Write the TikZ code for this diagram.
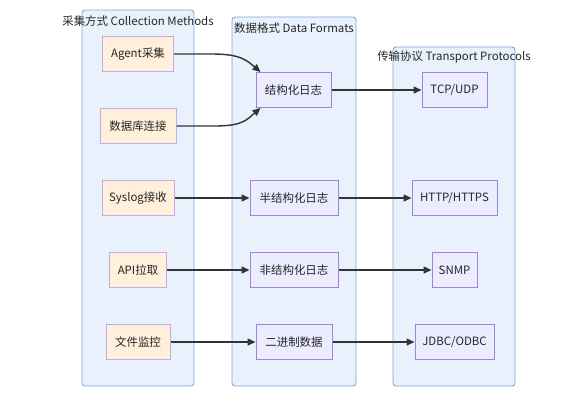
\documentclass[tikz,border=0pt]{standalone}
\usepackage{fontspec}
\setmainfont{Noto Sans CJK SC}
\usetikzlibrary{arrows.meta}
\definecolor{clfill}{RGB}{232,241,252}
\definecolor{cldraw}{RGB}{128,166,214}
\definecolor{srcfill}{RGB}{255,240,220}
\definecolor{srcdraw}{RGB}{196,172,232}
\definecolor{fmtfill}{RGB}{236,236,255}
\definecolor{fmtdraw}{RGB}{160,128,224}
\definecolor{edgec}{RGB}{51,51,51}
\tikzset{
  cluster/.style={draw=cldraw, fill=clfill, line width=0.9bp, rounded corners=3bp},
  cltitle/.style={font=\fontsize{11.5}{13}\selectfont, text=black!85, inner sep=0pt},
  srcbox/.style={draw=srcdraw, fill=srcfill, line width=1bp, minimum height=35bp, inner sep=0pt, font=\fontsize{11.5}{13}\selectfont, text=black!85},
  fmtbox/.style={draw=fmtdraw, fill=fmtfill, line width=1bp, minimum height=35bp, inner sep=0pt, font=\fontsize{11.5}{13}\selectfont, text=black!85},
  flow/.style={draw=edgec, line width=1.4bp, -{Triangle[length=8bp,width=7bp]}},
}
\begin{document}
\begin{tikzpicture}[x=1bp,y=-1bp]
\useasboundingbox (0,0) rectangle (568,400);
% clusters
\draw[cluster] (82,10) rectangle (194,386);
\draw[cluster] (232,17) rectangle (356,386);
\draw[cluster] (393,47) rectangle (515,386);
\node[cltitle] (t1) at (138,21) {采集方式 Collection Methods};
\node[cltitle] (t2) at (294,28) {数据格式 Data Formats};
\node[cltitle] (t3) at (454,57) {传输协议 Transport Protocols};
% sources
\node[srcbox, minimum width=71bp] (agent) at (138,54) {Agent采集};
\node[srcbox, minimum width=76bp] (db) at (138,126) {数据库连接};
\node[srcbox, minimum width=72bp] (syslog) at (138,198) {Syslog接收};
\node[srcbox, minimum width=57bp] (api) at (138,270) {API拉取};
\node[srcbox, minimum width=64bp] (file) at (138,342) {文件监控};
% formats
\node[fmtbox, minimum width=75bp] (struct) at (293.5,90) {结构化日志};
\node[fmtbox, minimum width=88bp] (semi) at (294,198) {半结构化日志};
\node[fmtbox, minimum width=88bp] (unst) at (294,270) {非结构化日志};
\node[fmtbox, minimum width=76bp] (bin) at (294,342) {二进制数据};
% protocols
\node[fmtbox, minimum width=65bp] (tcp) at (454.5,90) {TCP/UDP};
\node[fmtbox, minimum width=85bp] (http) at (454.5,198) {HTTP/HTTPS};
\node[fmtbox, minimum width=45bp] (snmp) at (454.5,270) {SNMP};
\node[fmtbox, minimum width=79bp] (jdbc) at (454.5,342) {JDBC/ODBC};
% edges
\draw[flow] (agent.east) -- ++(38,0) .. controls +(28,0) and +(-14,-12) .. ([xshift=5bp]struct.north west);
\draw[flow] (db.east) -- ++(38,0) .. controls +(28,0) and +(-14,12) .. ([xshift=5bp]struct.south west);
\draw[flow] (syslog) -- (semi);
\draw[flow] (api) -- (unst);
\draw[flow] (file) -- (bin);
\draw[flow] (struct) -- (tcp);
\draw[flow] (semi) -- (http);
\draw[flow] (unst) -- (snmp);
\draw[flow] (bin) -- (jdbc);
\end{tikzpicture}
\end{document}
